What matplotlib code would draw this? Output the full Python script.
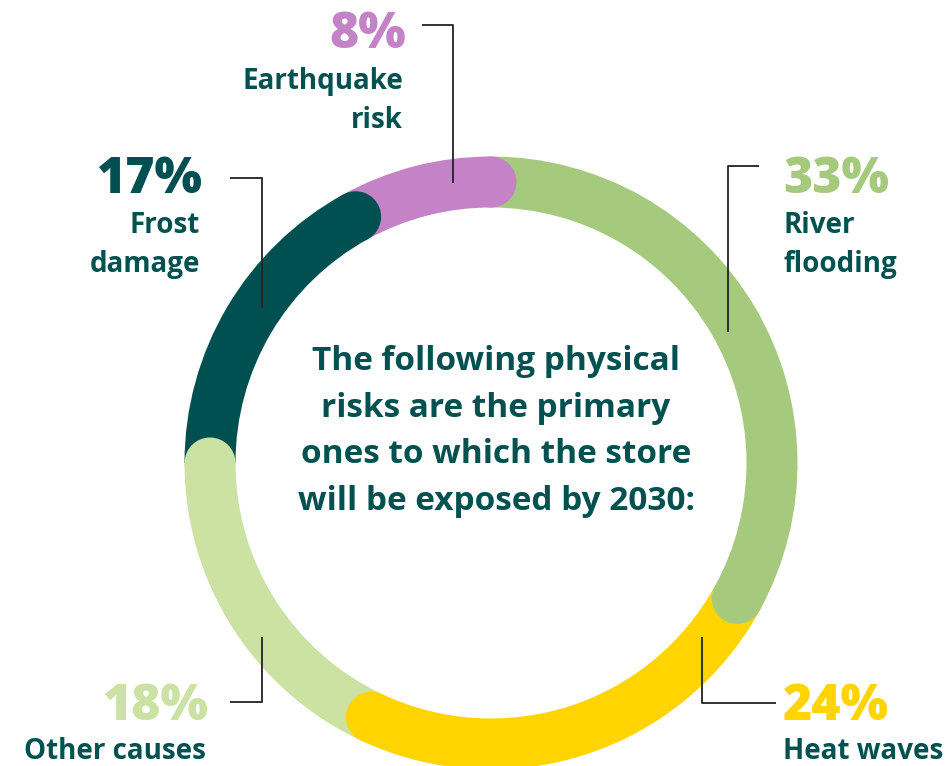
import matplotlib
matplotlib.use("Agg")
import matplotlib.pyplot as plt
from matplotlib.patches import Wedge, Circle
import numpy as np

# data: clockwise from 12 o'clock
labels = ["River\nflooding", "Heat waves", "Other causes", "Frost\ndamage", "Earthquake\nrisk"]
values = [33, 24, 18, 17, 8]
colors = ["#a5ca7e", "#ffd400", "#cce2a2", "#004f51", "#c383c6"]
center_text = ["The following physical", "risks are the primary",
               "ones to which the store", "will be exposed by 2030:"]

TEXT_COLOR = "#00514f"
W, H = 950, 766
FONT = ["Open Sans", "DejaVu Sans"]


def Y(py):
    return H - py


fig = plt.figure(figsize=(9.5, 7.66), dpi=100)
ax = fig.add_axes([0, 0, 1, 1])
ax.set_xlim(0, W)
ax.set_ylim(0, H)
ax.set_aspect("equal")
ax.axis("off")

cx, cy = 491, Y(463)
r_mid, ring_w = 281, 51

# ring segments, butt ends first, round end caps on top afterwards
start = 90.0
caps = []
for v, c in zip(values, colors):
    end = start - v * 3.6
    ax.add_patch(Wedge((cx, cy), r_mid + ring_w / 2, end, start, width=ring_w,
                       facecolor=c, edgecolor="none", zorder=2))
    a = np.radians(end)
    caps.append((cx + r_mid * np.cos(a), cy + r_mid * np.sin(a), c))
    start = end
for x, y, c in caps:
    ax.add_patch(Circle((x, y), ring_w / 2, facecolor=c, edgecolor="none", zorder=3))

# leader lines (pixel layout)
def leader(pts):
    xs = [p[0] for p in pts]
    ys = [Y(p[1]) for p in pts]
    ax.plot(xs, ys, color="#222222", lw=1.3, zorder=4, solid_capstyle="butt")

leader([(759, 166), (728, 166), (728, 332)])    # river flooding
leader([(702, 637), (702, 703), (776, 703)])    # heat waves
leader([(262, 637), (262, 702), (230, 702)])    # other causes
leader([(230, 178), (262, 178), (262, 308)])    # frost damage
leader([(422, 25), (453, 25), (453, 183)])      # earthquake

# label layout: (x, pct baseline, label baseline, ha)
label_pos = [
    (783, 193, 233, "left"),
    (783, 720, 759, "left"),
    (209, 720, 759, "right"),
    (203, 193, 233, "right"),
    (406, 48, 89, "right"),
]
for (x, yp, yl, ha), lab, v, c in zip(label_pos, labels, values, colors):
    ax.text(x, Y(yp), f"{v}%", color=c, fontsize=36, fontweight="heavy",
            family=FONT, ha=ha, va="baseline")
    for i, line in enumerate(lab.split("\n")):
        ax.text(x - (3 if ha == "right" else 0), Y(yl + 39 * i), line,
                color=TEXT_COLOR, fontsize=20, fontweight="bold",
                family=FONT, ha=ha, va="baseline")

for i, line in enumerate(center_text):
    ax.text(496, Y(370 + 46.7 * i), line, color=TEXT_COLOR, fontsize=24,
            fontweight="bold", family=FONT, ha="center", va="baseline")

fig.savefig("out.png", dpi=100, facecolor="white")
